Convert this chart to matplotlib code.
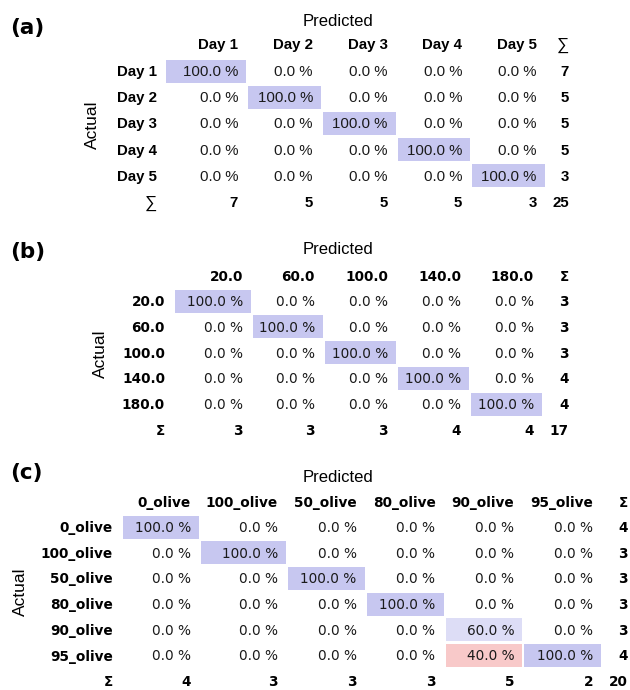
# Confusion matrices for three classification tasks (a), (b), (c)
import numpy as np
import matplotlib
matplotlib.use("Agg")
import matplotlib.pyplot as plt
from matplotlib.patches import Rectangle

# ---- data ----
labels_a = ['Day 1', 'Day 2', 'Day 3', 'Day 4', 'Day 5']
counts_a = np.diag([7, 5, 5, 5, 3])

labels_b = ['20.0', '60.0', '100.0', '140.0', '180.0']
counts_b = np.diag([3, 3, 3, 4, 4])

labels_c = ['0_olive', '100_olive', '50_olive', '80_olive', '90_olive', '95_olive']
counts_c = np.diag([4, 3, 3, 3, 3, 2])
counts_c[5, 4] = 2  # two 95_olive samples predicted as 90_olive

# ---- layout (pixels, origin top-left) ----
W, H = 630, 690
BLUE = np.array([0.78, 0.78, 0.94])
RED = np.array([0.93, 0.47, 0.47])


def cell_color(pct, diagonal):
    base = BLUE if diagonal else RED
    return tuple(1 - pct / 100.0 * (1 - base))


def draw_panel(ax, tag, labels, counts, lay, font, sigma, sigma_bold):
    n = len(labels)
    col_sums = counts.sum(axis=0)
    row_sums = counts.sum(axis=1)
    pct = counts / col_sums[None, :] * 100.0

    # right edges of the value columns
    col_right = [lay['x0']]
    for j in range(1, n):
        col_right.append(lay['x1'] + (j - 1) * lay['pitch'])
    ys = [lay['row0'] + i * lay['rpitch'] for i in range(n + 1)]
    fs = lay['fs']

    ax.text(lay['tag_x'], lay['tag_y'], tag, fontsize=15.5, fontweight='bold',
            family='DejaVu Sans', ha='left', va='center')
    ax.text(338, lay['pred_y'], 'Predicted', fontsize=12, family='Liberation Sans',
            ha='center', va='center')
    ax.text(lay['act_x'], (ys[0] + ys[n - 1]) / 2, 'Actual', fontsize=12.5,
            family='Liberation Sans', rotation=90, ha='center', va='center')

    # header row
    for j, lab in enumerate(labels):
        ax.text(col_right[j], lay['head_y'], lab, fontsize=fs, fontweight='bold',
                family=font, ha='right', va='center')
    ax.text(lay['sum_r'], lay['head_y'], sigma, fontsize=fs + (0 if sigma_bold else 1.5),
            fontweight='bold' if sigma_bold else 'normal', family=font,
            ha='right', va='center')

    # cells
    bh = 23
    for i in range(n):
        ax.text(lay['lab_r'], ys[i], labels[i], fontsize=fs, fontweight='bold',
                family=font, ha='right', va='center')
        for j in range(n):
            p = pct[i, j]
            right = col_right[j] + 8
            left = right - lay['w0'] if j == 0 else col_right[j - 1] + 10
            if p > 0:
                ax.add_patch(Rectangle((left, ys[i] - bh / 2 - 1), right - left, bh,
                                       facecolor=cell_color(p, i == j),
                                       edgecolor='none', zorder=0))
            ax.text(col_right[j], ys[i], f'{p:.1f} %', fontsize=fs, family=font,
                    color='#1a1a1a', ha='right', va='center', zorder=2)
        ax.text(lay['sum_r'], ys[i], str(row_sums[i]), fontsize=fs, fontweight='bold',
                family=font, ha='right', va='center')

    # totals row
    ax.text(lay['lab_r'], ys[n], sigma, fontsize=fs + (0 if sigma_bold else 1.5),
            fontweight='bold' if sigma_bold else 'normal', family=font,
            ha='right', va='center')
    for j in range(n):
        ax.text(col_right[j], ys[n], str(col_sums[j]), fontsize=fs, fontweight='bold',
                family=font, ha='right', va='center')
    ax.text(lay['sum_r'], ys[n], str(counts.sum()), fontsize=fs, fontweight='bold',
            family=font, ha='right', va='center')


fig = plt.figure(figsize=(W / 100, H / 100), dpi=100)
ax = fig.add_axes([0, 0, 1, 1])
ax.set_xlim(0, W)
ax.set_ylim(H, 0)
ax.axis('off')

lay_a = dict(tag_x=10, tag_y=28, pred_y=21, head_y=45, row0=72, rpitch=26.2,
             lab_r=157, x0=238, x1=313, pitch=74.5, w0=80, sum_r=569, act_x=92, fs=10.8)
lay_b = dict(tag_x=10, tag_y=252, pred_y=250, head_y=277, row0=302, rpitch=25.8,
             lab_r=165, x0=243, x1=315, pitch=73, w0=76, sum_r=569, act_x=100, fs=9.8)
lay_c = dict(tag_x=10, tag_y=473, pred_y=477, head_y=503, row0=528, rpitch=25.7,
             lab_r=113, x0=191, x1=278, pitch=78.75, w0=76, sum_r=628, act_x=20, fs=9.8)

draw_panel(ax, '(a)', labels_a, counts_a, lay_a, 'Liberation Sans', '\u2211', False)
draw_panel(ax, '(b)', labels_b, counts_b, lay_b, 'DejaVu Sans', '\u03a3', True)
draw_panel(ax, '(c)', labels_c, counts_c, lay_c, 'DejaVu Sans', '\u03a3', True)

fig.savefig('out.png', dpi=100)
